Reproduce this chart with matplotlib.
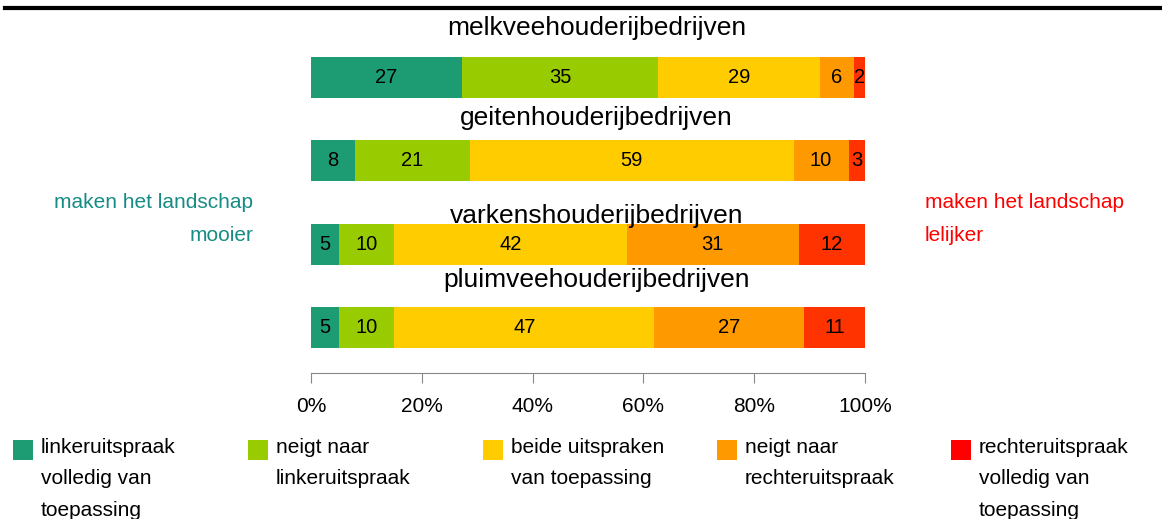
import numpy as np
import matplotlib.pyplot as plt
from matplotlib.patches import Rectangle
from matplotlib.lines import Line2D

plt.rcParams['font.family'] = ['Liberation Sans', 'DejaVu Sans']

# data
bedrijven = ['melkveehouderijbedrijven', 'geitenhouderijbedrijven',
             'varkenshouderijbedrijven', 'pluimveehouderijbedrijven']
melk = [27, 35, 29, 6, 2]
geiten = [8, 21, 59, 10, 3]
varkens = [5, 10, 42, 31, 12]
pluim = [5, 10, 47, 27, 11]
categorieen = ['linkeruitspraak\nvolledig van\ntoepassing',
               'neigt naar\nlinkeruitspraak',
               'beide uitspraken\nvan toepassing',
               'neigt naar\nrechteruitspraak',
               'rechteruitspraak\nvolledig van\ntoepassing']
ticks = [0, 20, 40, 60, 80, 100]
tick_labels = ['0%', '20%', '40%', '60%', '80%', '100%']

bar_colors = ['#1d9c74', '#99cc00', '#ffcc00', '#ff9900', '#ff3300']
leg_colors = ['#1d9c74', '#99cc00', '#ffcc00', '#ff9900', '#ff0000']
title_offset = [-0.51, -0.43, -0.25, -0.49]

W, H = 1162, 519
fig = plt.figure(figsize=(W / 100, H / 100), dpi=100)
ax = fig.add_axes([311 / W, 1 - 373 / H, 554 / W, 373 / H])

rows = [melk, geiten, varkens, pluim]
for i, row in enumerate(rows):
    vals = np.array(row, dtype=float)
    widths = vals / vals.sum() * 100
    left = 0
    for j, w in enumerate(widths):
        ax.barh(i, w, left=left, height=0.49, color=bar_colors[j], linewidth=0)
        ax.text(left + w / 2, i, str(row[j]), ha='center', va='center', fontsize=14.5)
        left += w
    ax.text(51.5, i + title_offset[i], bedrijven[i], ha='center', va='baseline', fontsize=19)

ax.set_xlim(0, 100)
ax.set_ylim(3.547, -0.93)
ax.set_yticks([])
ax.set_xticks(ticks)
ax.set_xticklabels(tick_labels)
for s in ['top', 'left', 'right']:
    ax.spines[s].set_visible(False)
ax.spines['bottom'].set_color('#888888')
ax.tick_params(axis='x', direction='out', length=7, color='#888888', labelsize=15, pad=10)

# top rule
fig.add_artist(Line2D([5 / W, 1], [1 - 7.5 / H] * 2, lw=3, color='k', transform=fig.transFigure))

# side labels
fig.text(253 / W, 1 - 219 / H, 'maken het landschap\nmooier', ha='right', va='center',
         multialignment='right', color='#178c85', fontsize=15, linespacing=1.9)
fig.text(925 / W, 1 - 219 / H, 'maken het landschap\nlelijker', ha='left', va='center',
         multialignment='left', color='#ff0000', fontsize=15, linespacing=1.9)

# legend
sq_x = [13, 248, 483, 717, 951]
for k, lab in enumerate(categorieen):
    fig.add_artist(Rectangle((sq_x[k] / W, 1 - 460 / H), 20 / W, 20 / H,
                             transform=fig.transFigure, color=leg_colors[k], lw=0))
    fig.text((sq_x[k] + 28) / W, 1 - 438 / H, lab, ha='left', va='top',
             fontsize=15, linespacing=1.82)

fig.savefig('out.png', dpi=100)
